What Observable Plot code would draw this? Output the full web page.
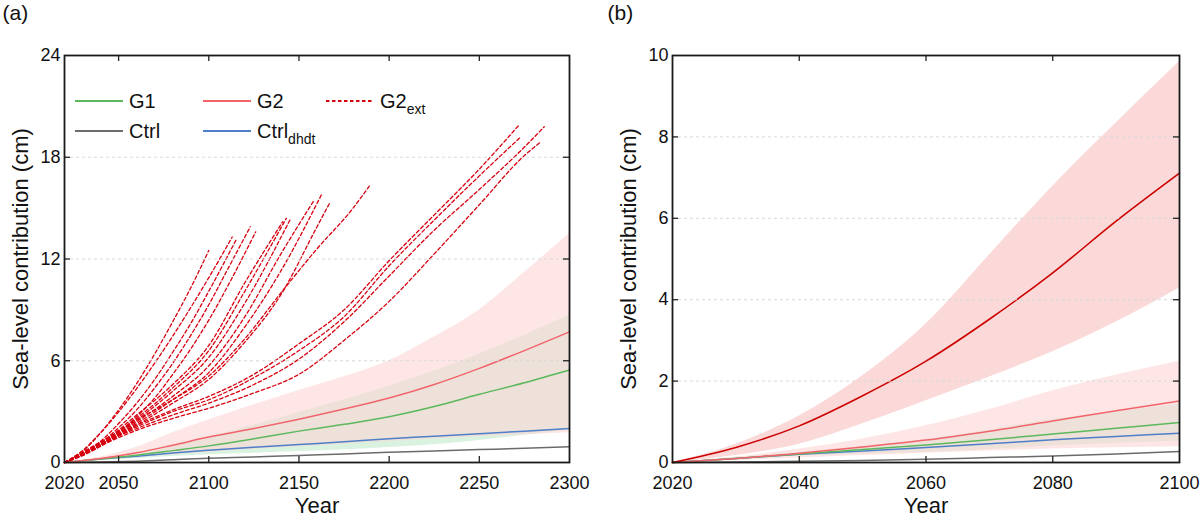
<!DOCTYPE html>
<html>
<head>
<meta charset="utf-8">
<script src="https://cdn.jsdelivr.net/npm/d3@7"></script>
<script src="https://cdn.jsdelivr.net/npm/@observablehq/plot@0.6"></script>
<style>
  body { margin: 0; background: #fff; font-family: "Liberation Sans", Arial, sans-serif; }
  #wrap { position: relative; width: 1200px; height: 517px; display: flex; }
  .panel { position: relative; width: 600px; height: 517px; }
  .item { position: absolute; display: flex; align-items: center; white-space: nowrap; font-size: 20px; color: #111; line-height: 1; }
  .item svg { margin-right: 6px; }
  .item sub { font-size: 14px; position: relative; top: 6px; vertical-align: baseline; }
</style>
</head>
<body>
<div id="wrap"><div class="panel" id="pa"></div><div class="panel" id="pb"></div></div>
<script>
// data, panel (a): 2020-2300
const yearsA = [2020, 2040, 2060, 2080, 2100, 2125, 2150, 2175, 2200, 2225, 2250, 2275, 2300];
const g2A    = [0, 0.23, 0.57, 1.02, 1.50, 2.00, 2.55, 3.15, 3.80, 4.60, 5.55, 6.60, 7.70];
const g2HiA  = [0, 0.33, 0.90, 1.76, 2.50, 3.40, 4.25, 5.05, 6.00, 7.40, 9.00, 11.2, 13.5];
const g2LoA  = [0, 0.17, 0.31, 0.46, 0.60, 0.78, 0.93, 1.08, 1.24, 1.38, 1.52, 1.63, 1.75];
const g1A    = [0, 0.21, 0.43, 0.70, 0.98, 1.40, 1.85, 2.25, 2.70, 3.30, 4.02, 4.70, 5.45];
const g1HiA  = [0, 0.25, 0.57, 1.06, 1.50, 2.20, 2.95, 3.70, 4.50, 5.40, 6.40, 7.50, 8.70];
const g1LoA  = [0, 0.12, 0.23, 0.36, 0.45, 0.55, 0.65, 0.75, 0.88, 1.05, 1.30, 1.60, 1.90];
const dhdtA  = [0, 0.20, 0.37, 0.56, 0.72, 0.90, 1.06, 1.22, 1.40, 1.55, 1.70, 1.85, 2.00];
const ctrlA  = [0, 0.03, 0.08, 0.16, 0.25, 0.33, 0.42, 0.50, 0.60, 0.68, 0.76, 0.84, 0.93];

// G2ext runs, [year, cm]
const ext01 = [[2020,0],[2030,0.65],[2040,1.75],[2050,3.1],[2060,4.65],[2070,6.4],[2080,8.3],[2090,10.3],[2100,12.5]];
const ext02 = [[2020,0],[2030,0.7],[2040,1.75],[2050,2.98],[2060,4.36],[2070,5.86],[2080,7.45],[2090,9.14],[2100,10.9],[2113,13.3]];
const ext03 = [[2020,0],[2030,0.5],[2040,1.25],[2050,2.3],[2060,3.5],[2070,4.9],[2080,6.5],[2090,8.2],[2100,10.1],[2115,13.1]];
const ext04 = [[2020,0],[2030,0.5],[2040,1.15],[2050,2.05],[2060,3.1],[2070,4.4],[2080,5.85],[2090,7.5],[2100,9.3],[2110,11.3],[2123,13.9]];
const ext05 = [[2020,0],[2030,0.45],[2040,1.05],[2050,1.8],[2060,2.7],[2070,3.8],[2080,5.2],[2090,6.7],[2100,8.4],[2113,10.9],[2126,13.6]];
const ext06 = [[2020,0],[2030,0.5],[2040,1.1],[2060,2.8],[2080,4.6],[2100,6.9],[2120,10.6],[2141,14.2]];
const ext07 = [[2020,0],[2030,0.5],[2040,1.05],[2060,2.6],[2080,4.4],[2100,6.6],[2120,10.1],[2143,14.4]];
const ext08 = [[2020,0],[2030,0.45],[2040,1.0],[2060,2.5],[2080,4.2],[2100,6.2],[2120,9.4],[2145,14.3]];
const ext09 = [[2020,0],[2030,0.45],[2040,1.0],[2060,2.4],[2080,3.9],[2100,5.7],[2120,8.6],[2140,12.3],[2158,15.4]];
const ext10 = [[2020,0],[2030,0.45],[2040,1.0],[2060,2.3],[2080,3.7],[2100,5.3],[2120,8.0],[2140,11.3],[2163,15.9]];
const ext11 = [[2020,0],[2030,0.4],[2040,0.95],[2060,2.2],[2080,3.5],[2100,4.9],[2120,7.1],[2140,9.9],[2160,13.9],[2167,15.3]];
const ext12 = [[2020,0],[2030,0.55],[2040,1.2],[2060,2.5],[2080,3.7],[2100,5.1],[2120,7.3],[2140,10.0],[2160,12.6],[2180,15.0],[2189,16.3]];
const ext13 = [[2020,0],[2040,1.2],[2060,2.2],[2080,3.1],[2100,3.9],[2125,5.2],[2150,7.0],[2175,9.0],[2200,11.9],[2225,14.6],[2250,17.3],[2272,19.9]];
const ext14 = [[2020,0],[2040,1.1],[2060,2.1],[2080,3.0],[2100,3.7],[2125,5.0],[2150,6.6],[2175,8.6],[2200,11.6],[2225,14.3],[2250,16.9],[2273,19.2]];
const ext15 = [[2020,0],[2040,1.1],[2060,2.0],[2080,2.8],[2100,3.5],[2125,4.6],[2150,6.1],[2175,8.3],[2200,11.0],[2225,13.7],[2250,16.1],[2275,18.6],[2286,19.8]];
const ext16 = [[2020,0],[2040,1.0],[2060,1.9],[2080,2.6],[2100,3.2],[2125,4.1],[2150,5.2],[2175,7.2],[2200,9.5],[2225,12.3],[2250,15.2],[2275,18.1],[2284,18.9]];
const extRuns = [ext01, ext02, ext03, ext04, ext05, ext06, ext07, ext08, ext09, ext10, ext11, ext12, ext13, ext14, ext15, ext16];

// data, panel (b): 2020-2100
const yearsB = [2020, 2030, 2040, 2050, 2060, 2070, 2080, 2090, 2100];
const extB   = [0, 0.37, 0.90, 1.64, 2.49, 3.52, 4.66, 5.93, 7.11];
const extHiB = [0, 0.45, 1.14, 2.13, 3.40, 5.10, 6.79, 8.34, 9.85];
const extLoB = [0, 0.17, 0.45, 0.95, 1.52, 2.10, 2.72, 3.45, 4.29];
const g2B    = [0, 0.10, 0.23, 0.38, 0.55, 0.77, 1.02, 1.27, 1.51];
const g2HiB  = [0, 0.13, 0.33, 0.58, 0.90, 1.30, 1.76, 2.15, 2.49];
const g2LoB  = [0, 0.05, 0.11, 0.17, 0.23, 0.28, 0.33, 0.36, 0.39];
const g1B    = [0, 0.10, 0.21, 0.32, 0.43, 0.56, 0.70, 0.84, 0.98];
const g1HiB  = [0, 0.12, 0.25, 0.40, 0.57, 0.80, 1.06, 1.25, 1.43];
const g1LoB  = [0, 0.08, 0.16, 0.20, 0.25, 0.32, 0.41, 0.47, 0.53];
const dhdtB  = [0, 0.10, 0.20, 0.28, 0.37, 0.46, 0.56, 0.64, 0.72];
const ctrlB  = [0, 0.01, 0.03, 0.05, 0.08, 0.12, 0.16, 0.21, 0.27];

const xTicksA = [2020, 2050, 2100, 2150, 2200, 2250, 2300];
const yTicksA = [0, 6, 12, 18, 24];
const xTicksB = [2020, 2040, 2060, 2080, 2100];
const yTicksB = [0, 2, 4, 6, 8, 10];

const yLabel = 'Sea-level contribution (cm)';
const xLabel = 'Year';

// colours
const cG1 = '#5cb85c', cG2 = '#f2646c', cCtrl = '#6b6b6b', cDhdt = '#4f7fc8', cExt = '#d7000f', cDark = '#cc0000';


// helpers
function band(years, lo, hi) {
	return years.map((year, i) => ({year, lo: lo[i], hi: hi[i]}));
}
function series(years, v) {
	return years.map((year, i) => ({year, v: v[i]}));
}
function frameMarks(xTicks, yTicks, w, h) {
	const t = 6;
	const inner = xTicks.slice(1, -1);
	const innerY = yTicks.slice(1, -1);
	return [
		Plot.gridY(innerY, {stroke: '#d9d9d9', strokeOpacity: 1, strokeDasharray: '3,3'}),
		Plot.tickX(inner, {x: d => d, insetTop: h - t, stroke: '#222', strokeWidth: 1.3}),
		Plot.tickX(inner, {x: d => d, insetBottom: h - t, stroke: '#222', strokeWidth: 1.3}),
		Plot.tickY(innerY, {y: d => d, insetRight: w - t, stroke: '#222', strokeWidth: 1.3}),
		Plot.tickY(innerY, {y: d => d, insetLeft: w - t, stroke: '#222', strokeWidth: 1.3}),
		Plot.axisX(xTicks, {label: null, tickSize: 0, tickPadding: 14, fontSize: 18, tickFormat: d => String(d), fill: '#111'}),
		Plot.axisY(yTicks, {label: null, tickSize: 0, tickPadding: 4, fontSize: 18, fill: '#111'}),
		Plot.text([yLabel], {frameAnchor: 'left', dx: -44, rotate: -90, textAnchor: 'middle', lineAnchor: 'middle', fontSize: 22, fill: '#111'}),
		Plot.text([xLabel], {frameAnchor: 'bottom', dy: 43, textAnchor: 'middle', lineAnchor: 'middle', fontSize: 22, fill: '#111'}),
		Plot.frame({stroke: '#1a1a1a', strokeWidth: 1.8})
	];
}

const extData = extRuns.flatMap((run, k) => run.map(([year, v]) => ({run: k, year, v})));

const common = {width: 600, height: 517, marginTop: 55, marginBottom: 55,
	style: {fontFamily: '"Liberation Sans", Arial, sans-serif', background: 'transparent'}};

// panel (a)
const figA = Plot.plot({
	...common,
	marginLeft: 64,
	marginRight: 31,
	x: {domain: [2020, 2300], axis: null},
	y: {domain: [0, 24], axis: null},
	marks: [
		Plot.areaY(band(yearsA, g1LoA, g1HiA), {x: 'year', y1: 'lo', y2: 'hi', fill: '#daf2e0', curve: 'monotone-x'}),
		Plot.areaY(band(yearsA, g2LoA, g2HiA), {x: 'year', y1: 'lo', y2: 'hi', fill: '#fbd6d4', fillOpacity: 0.6, curve: 'monotone-x'}),
		Plot.line(series(yearsA, ctrlA), {x: 'year', y: 'v', stroke: cCtrl, strokeWidth: 1.5, curve: 'monotone-x'}),
		Plot.line(series(yearsA, dhdtA), {x: 'year', y: 'v', stroke: cDhdt, strokeWidth: 1.5, curve: 'monotone-x'}),
		Plot.line(series(yearsA, g1A), {x: 'year', y: 'v', stroke: cG1, strokeWidth: 1.5, curve: 'monotone-x'}),
		Plot.line(series(yearsA, g2A), {x: 'year', y: 'v', stroke: cG2, strokeWidth: 1.5, curve: 'monotone-x'}),
		Plot.line(extData, {x: 'year', y: 'v', z: 'run', stroke: cExt, strokeWidth: 1.3, strokeDasharray: '3.5,2.5', curve: 'monotone-x'}),
		...frameMarks(xTicksA, yTicksA, 505, 407),
		Plot.text(['(a)'], {frameAnchor: 'top-left', dx: -62, dy: -42, textAnchor: 'start', lineAnchor: 'middle', fontSize: 21, fill: '#111'})
	]
});
document.querySelector('#pa').append(figA);

// panel (b)
const figB = Plot.plot({
	...common,
	marginLeft: 72,
	marginRight: 21,
	x: {domain: [2020, 2100], axis: null},
	y: {domain: [0, 10], axis: null},
	marks: [
		Plot.areaY(band(yearsB, g1LoB, g1HiB), {x: 'year', y1: 'lo', y2: 'hi', fill: '#daf2e0', curve: 'monotone-x'}),
		Plot.areaY(band(yearsB, g2LoB, g2HiB), {x: 'year', y1: 'lo', y2: 'hi', fill: '#fbd6d4', fillOpacity: 0.6, curve: 'monotone-x'}),
		Plot.areaY(band(yearsB, extLoB, extHiB), {x: 'year', y1: 'lo', y2: 'hi', fill: '#f7b9b9', fillOpacity: 0.55, curve: 'monotone-x'}),
		Plot.line(series(yearsB, ctrlB), {x: 'year', y: 'v', stroke: cCtrl, strokeWidth: 1.5, curve: 'monotone-x'}),
		Plot.line(series(yearsB, dhdtB), {x: 'year', y: 'v', stroke: cDhdt, strokeWidth: 1.5, curve: 'monotone-x'}),
		Plot.line(series(yearsB, g1B), {x: 'year', y: 'v', stroke: cG1, strokeWidth: 1.5, curve: 'monotone-x'}),
		Plot.line(series(yearsB, g2B), {x: 'year', y: 'v', stroke: cG2, strokeWidth: 1.5, curve: 'monotone-x'}),
		Plot.line(series(yearsB, extB), {x: 'year', y: 'v', stroke: cDark, strokeWidth: 1.6, curve: 'monotone-x'}),
		...frameMarks(xTicksB, yTicksB, 507, 407),
		Plot.text(['(b)'], {frameAnchor: 'top-left', dx: -65, dy: -42, textAnchor: 'start', lineAnchor: 'middle', fontSize: 21, fill: '#111'})
	]
});
document.querySelector('#pb').append(figB);


// legend inside panel (a)
const legend = [
	{name: 'G1', color: cG1, left: 75, top: 101},
	{name: 'G2', color: cG2, left: 203, top: 101},
	{name: 'G2', sub: 'ext', color: cExt, dash: '3.5,2.5', left: 326, top: 101},
	{name: 'Ctrl', color: cCtrl, left: 75, top: 131},
	{name: 'Ctrl', sub: 'dhdt', color: cDhdt, left: 203, top: 131}
];
legend.forEach(d => {
	const el = document.createElement('div');
	el.className = 'item';
	el.style.left = d.left + 'px';
	el.style.top = (d.top - 10) + 'px';
	el.style.height = '20px';
	el.innerHTML = `<svg width="48" height="6"><line x1="0" x2="48" y1="3" y2="3" stroke="${d.color}" stroke-width="1.8"${d.dash ? ` stroke-dasharray="${d.dash}"` : ''}/></svg>`
		+ `<span>${d.name}${d.sub ? `<sub>${d.sub}</sub>` : ''}</span>`;
	document.querySelector('#pa').append(el);
});
</script>
</body>
</html>
